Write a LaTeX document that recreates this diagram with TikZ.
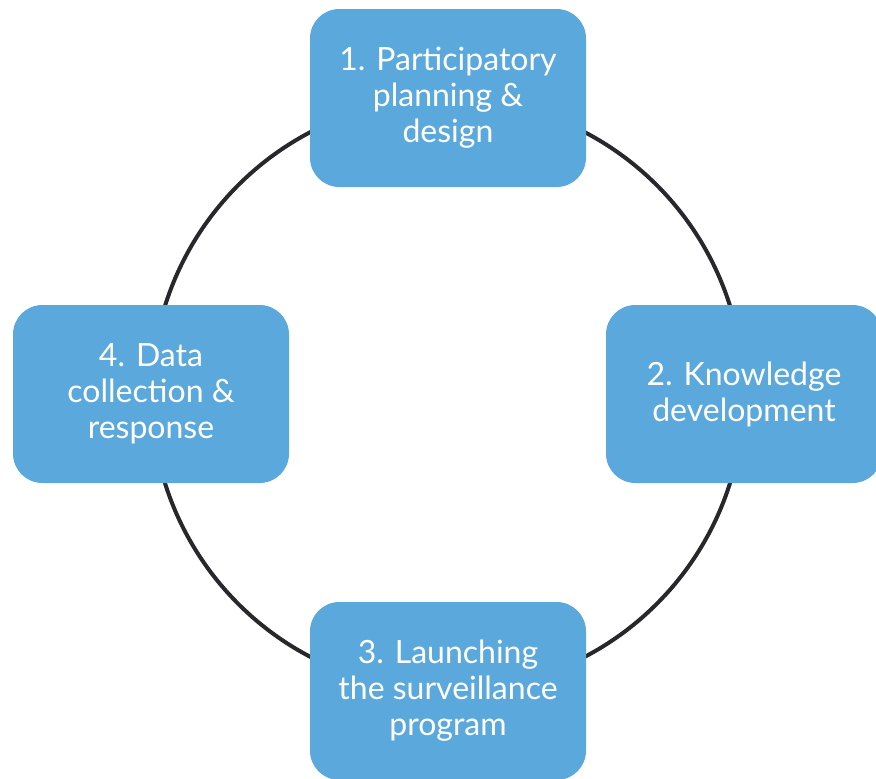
\documentclass[tikz,border=0pt]{standalone}
\usepackage{fontspec}
\setmainfont{Lato}
\definecolor{phaseblue}{HTML}{5BA9DC}
\definecolor{ringgray}{HTML}{28282C}

\begin{document}
\begin{tikzpicture}[x=0.75pt,y=-0.75pt,
    phase/.style={rectangle,rounded corners=22pt,fill=phaseblue,text=white,
      minimum width=207pt,minimum height=133.5pt,inner sep=0pt,align=center,
      font=\fontsize{24}{27}\selectfont}]
    \useasboundingbox (0,0) rectangle (876,779);
    \clip (0,0) rectangle (876,779);
    \coordinate (hub) at (447.5,394.5);
    \draw[ringgray,line width=3pt] (hub) circle[radius=222pt];
    \node at (448,98) [phase] (p1) {1. Participatory\\planning \&\\design};
    \node at (744,394) [phase] (p2) {2. Knowledge\\development};
    \node at (448,691) [phase] (p3) {3. Launching\\the surveillance\\program};
    \node at (151,394) [phase] (p4) {4. Data\\collection \&\\response};
\end{tikzpicture}
\end{document}
